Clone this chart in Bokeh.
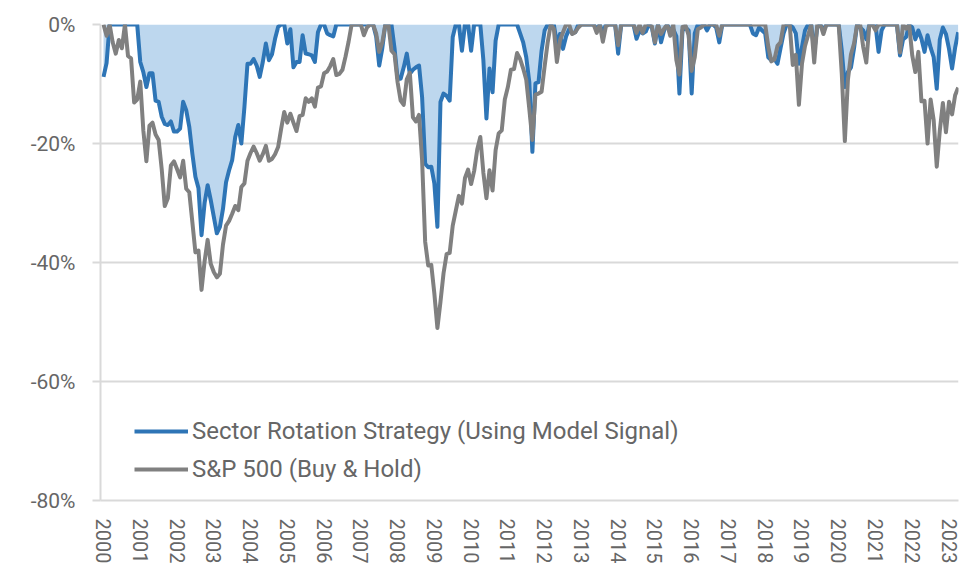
from bokeh.plotting import figure
from bokeh.models import Range1d, FixedTicker, Legend, LegendItem, ColumnDataSource
from bokeh.embed import file_html
from bokeh.resources import INLINE

# ---- data (monthly drawdowns, %, Jan 2000 .. Apr 2023) ----
years = list(range(2000, 2024))
y_ticks = [-80, -60, -40, -20, 0]
y_tick_labels = ["-80%", "-60%", "-40%", "-20%", "0%"]

series_names = ["Sector Rotation Strategy (Using Model Signal)", "S&P 500 (Buy & Hold)"]

sector_rotation = [
    -8.8, -6.5, 0, 0, 0, 0, 0, 0, 0, 0, 0, 0,                                  # 2000
    -6.3, -8.0, -10.5, -8.2, -8.2, -12.8, -13.0, -15.5, -16.7, -16.9, -16.3, -18.0,  # 2001
    -18.0, -17.5, -13.0, -14.4, -17.2, -21.7, -25.6, -27.5, -35.4, -30.0, -27.0, -29.5,  # 2002
    -32.3, -35.1, -34.0, -31.0, -26.5, -24.5, -22.8, -18.9, -16.9, -20.0, -13.9, -6.6,  # 2003
    -6.6, -5.8, -6.9, -8.8, -6.3, -3.2, -6.0, -5.0, -2.4, -0.4, 0, 0,          # 2004
    -3.2, -0.8, -7.2, -6.3, -6.3, -1.8, -4.9, -5.0, -5.2, -6.3, -1.3, 0,       # 2005
    0, -1.5, -1.8, -2.0, 0, 0, 0, 0, 0, 0, 0, 0,                               # 2006
    0, 0, 0, 0, 0, -2.0, -6.9, -4.0, 0, 0, 0, -4.0,                            # 2007
    -9.1, -9.1, -7.2, -4.9, -8.3, -7.6, -7.2, -6.9, -12.2, -23.4, -24.0, -23.9,  # 2008
    -26.7, -34.0, -13.0, -11.6, -12.0, -12.8, -2.1, 0, 0, -4.4, 0, 0,          # 2009
    -4.4, 0, 0, 0, -6.0, -15.8, -7.4, -11.4, -2.7, 0, 0, 0,                    # 2010
    0, 0, 0, 0, -1.5, -3.0, -5.5, -9.7, -21.4, -9.9, -9.7, -4.4,               # 2011
    -1.0, 0, 0, 0, -3.2, -1.6, -4.1, -2.0, -0.8, -1.5, -1.3, 0,                # 2012
    0, 0, 0, 0, 0, -0.8, 0, -1.5, 0, 0, 0, 0,                                  # 2013
    -4.9, 0, 0, 0, 0, 0, -2.4, -1.0, -1.5, -1.2, 0, -0.5,                      # 2014
    -3.2, 0, -3.0, -1.0, 0, -1.0, -0.8, -2.0, -11.6, -1.0, -0.5, -1.0,         # 2015
    -11.6, -1.5, 0, 0, 0, -1.0, 0, 0, -0.5, -3.0, 0, 0,                        # 2016
    0, 0, 0, 0, 0, 0, 0, 0, -1.5, -1.8, -0.5, -1.0,                            # 2017
    -1.5, -5.5, -6.0, -5.8, -6.6, -4.0, -1.5, 0, 0, -0.5, -1.5, -6.6,          # 2018
    -3.8, -1.0, 0, 0, -4.5, -0.5, 0, -1.0, 0, 0, 0, 0,                         # 2019
    0, -4.4, -10.5, -8.0, -7.2, -4.0, 0, -0.5, -1.0, -2.5, 0, 0,               # 2020
    0, -4.6, -1.0, 0, 0, 0, 0, 0, -5.2, -2.5, -2.1, 0,                         # 2021
    -0.5, -2.5, -1.0, -2.4, -4.6, -1.8, -3.9, -5.5, -10.8, -2.5, -0.5, -1.6,   # 2022
    -4.1, -7.4, -3.9, -1.3,                                                    # 2023
]

sp500 = [
    0, -1.9, 0, -3.0, -4.9, -2.6, -4.0, 0, -5.3, -5.7, -13.1, -12.6,           # 2000
    -9.6, -17.8, -23.0, -17.0, -16.5, -18.5, -19.4, -24.3, -30.5, -29.2, -23.7, -23.0,  # 2001
    -24.3, -25.7, -22.9, -27.6, -28.2, -33.2, -38.3, -38.0, -44.6, -39.8, -36.2, -40.2,  # 2002
    -41.6, -42.5, -41.9, -37.0, -33.8, -33.0, -31.8, -30.5, -31.2, -27.3, -26.7, -22.9,  # 2003
    -21.6, -20.5, -21.6, -22.9, -21.8, -20.4, -22.9, -22.6, -21.8, -20.6, -17.5, -14.7,  # 2004
    -16.5, -15.0, -16.5, -17.9, -15.4, -15.2, -12.4, -13.0, -12.4, -13.8, -10.6, -10.4,  # 2005
    -8.2, -7.9, -7.0, -5.8, -8.5, -8.3, -7.6, -5.4, -2.9, 0, 0, 0,             # 2006
    0, -1.8, -0.5, 0, 0, -1.5, -4.6, -3.0, 0, 0, -4.4, -5.0,                   # 2007
    -9.7, -12.8, -13.5, -9.2, -8.1, -15.6, -16.3, -15.2, -22.8, -36.5, -40.5, -40.4,  # 2008
    -45.2, -51.0, -46.6, -41.8, -38.6, -38.4, -33.8, -31.3, -28.8, -30.1, -25.8, -24.4,  # 2009
    -26.8, -24.6, -21.0, -18.9, -24.9, -29.2, -24.5, -27.9, -21.1, -18.3, -17.8, -12.6,  # 2010
    -10.5, -7.6, -7.5, -4.8, -5.8, -7.4, -9.3, -14.2, -19.4, -11.8, -11.6, -11.3,  # 2011
    -7.0, -3.0, 0, -0.7, -6.3, -2.7, -1.3, 0, 0, -1.6, -1.3, -0.5,             # 2012
    0, 0, 0, 0, 0, -1.4, 0, -2.9, -0.3, 0, 0, 0,                               # 2013
    -3.5, 0, 0, 0, 0, 0, -1.4, 0, -1.4, 0, 0, -0.3,                            # 2014
    -3.0, 0, -1.6, -0.7, 0, -1.9, 0, -6.0, -8.4, -0.4, -0.2, -1.8,             # 2015
    -7.8, -5.5, -0.8, -0.5, 0, 0, 0, 0, -0.1, -1.9, 0, 0,                      # 2016
    0, 0, 0, 0, 0, 0, 0, 0, 0, 0, 0, 0,                                        # 2017
    0, -3.7, -6.2, -5.9, -3.6, -3.0, 0, 0, 0, -6.8, -5.1, -13.5,               # 2018
    -6.6, -3.6, -1.8, 0, -6.4, 0, 0, -1.6, 0, 0, 0, 0,                         # 2019
    -0.1, -8.3, -19.6, -9.3, -5.0, -3.2, 0, 0, -3.8, -6.4, 0, 0,               # 2020
    -1.0, 0, 0, 0, 0, 0, 0, 0, -4.7, 0, -0.7, 0,                               # 2021
    -5.2, -8.0, -4.6, -12.9, -12.8, -20.0, -12.6, -16.1, -23.9, -17.8, -13.2, -18.1,  # 2022
    -13.0, -15.1, -11.9, -10.6,                                                # 2023
]

# ---- build chart ----
n = len(sp500)
months = list(range(n))
source = ColumnDataSource(data=dict(x=months, zero=[0] * n,
                                    sector=sector_rotation, sp=sp500))

BLUE = "#2E75B6"
LIGHT_BLUE = "#BDD7EE"
GRAY = "#808080"
GRID = "#D9D9D9"
TEXT = "#666666"
FONT = "Roboto"

p = figure(width=970, height=568, output_backend="svg", toolbar_location=None,
           x_range=Range1d(-0.98, n - 0.9), y_range=Range1d(-80, 0),
           min_border_left=100, min_border_right=12, min_border_top=24,
           min_border_bottom=68)
p.outline_line_color = None
p.background_fill_color = "white"
p.border_fill_color = "white"

p.xgrid.visible = False
p.ygrid.ticker = FixedTicker(ticks=y_ticks)
p.ygrid.grid_line_color = GRID
p.ygrid.grid_line_width = 2

# y axis
p.yaxis.ticker = FixedTicker(ticks=y_ticks)
p.yaxis.major_label_overrides = {t: l for t, l in zip(y_ticks, y_tick_labels)}
p.yaxis.axis_line_color = GRID
p.yaxis.axis_line_width = 2
p.yaxis.major_tick_line_color = GRID
p.yaxis.major_tick_line_width = 2
p.yaxis.major_tick_out = 8
p.yaxis.major_tick_in = 0
p.yaxis.minor_tick_line_color = None
p.yaxis.major_label_standoff = 17
p.yaxis.major_label_text_font = FONT
p.yaxis.major_label_text_font_size = "21px"
p.yaxis.major_label_text_color = TEXT

# x axis
x_ticks = [12 * i for i in range(len(years))]
p.xaxis.ticker = FixedTicker(ticks=x_ticks)
p.xaxis.major_label_overrides = {t: str(y) for t, y in zip(x_ticks, years)}
p.xaxis.major_label_orientation = "vertical"
p.xaxis.axis_line_color = GRID
p.xaxis.axis_line_width = 2
p.xaxis.major_tick_out = 0
p.xaxis.major_tick_in = 0
p.xaxis.minor_tick_line_color = None
p.xaxis.major_label_standoff = 18
p.xaxis.major_label_text_font = FONT
p.xaxis.major_label_text_font_size = "20px"
p.xaxis.major_label_text_color = TEXT

# glyphs
p.varea(x="x", y1="zero", y2="sector", source=source, fill_color=LIGHT_BLUE)
blue_r = p.line("x", "sector", source=source, line_color=BLUE, line_width=4,
                line_join="round")
gray_r = p.line("x", "sp", source=source, line_color=GRAY, line_width=4,
                line_join="round")

legend = Legend(items=[LegendItem(label=series_names[0], renderers=[blue_r]),
                       LegendItem(label=series_names[1], renderers=[gray_r])],
                location=(34, 17), orientation="vertical",
                background_fill_alpha=0, border_line_color=None,
                padding=0, margin=0, spacing=10,
                glyph_width=54, glyph_height=28, label_height=28,
                label_standoff=4, label_text_font=FONT,
                label_text_font_size="24px", label_text_color=TEXT)
p.add_layout(legend)

open("out.html", "w").write(file_html(p, INLINE))
